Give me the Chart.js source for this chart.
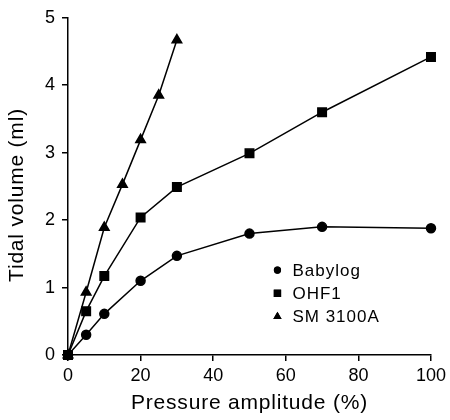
<!DOCTYPE html>
<html>
<head>
<meta charset="utf-8">
<script src="https://cdn.jsdelivr.net/npm/chart.js@4"></script>
<style>
  body { margin: 0; background: #fff; }
  #wrap { width: 450px; height: 420px; }
</style>
</head>
<body>
<div id="wrap"><canvas id="chart"></canvas></div>
<script>
// values
const babylogX = [0, 5, 10, 20, 30, 50, 70, 100];
const babylogY = [0, 0.30, 0.61, 1.10, 1.47, 1.80, 1.90, 1.88];
const ohf1X = [0, 5, 10, 20, 30, 50, 70, 100];
const ohf1Y = [0, 0.65, 1.17, 2.04, 2.49, 2.99, 3.60, 4.42];
const smX = [0, 5, 10, 15, 20, 25, 30];
const smY = [0, 0.93, 1.89, 2.53, 3.19, 3.85, 4.67];
const seriesNames = ["Babylog", "OHF1", "SM 3100A"];
const xTicks = [0, 20, 40, 60, 80, 100];
const yTicks = [0, 1, 2, 3, 4, 5];
const xTitle = "Pressure amplitude (%)";
const yTitle = "Tidal volume (ml)";

const FONT = "'Liberation Sans', Arial, sans-serif";

function pts(xs, ys) {
  return xs.map((x, i) => ({ x: x, y: ys[i] }));
}

function makeSet(label, data, style, radius) {
  return {
    label: label,
    data: data,
    borderColor: "#000",
    backgroundColor: "#000",
    borderWidth: 1.5,
    pointStyle: style,
    pointRadius: radius,
    pointHoverRadius: radius,
    showLine: true,
    tension: 0,
    clip: false
  };
}

// axis titles + small legend inside the plot (lower right)
const extras = {
  id: "extras",
  afterDraw(chart) {
    const ctx = chart.ctx;
    const area = chart.chartArea;
    const xs = chart.scales.x;
    const ys = chart.scales.y;
    ctx.save();
    ctx.fillStyle = "#000";
    ctx.letterSpacing = "0.8px";
    ctx.font = "21px " + FONT;
    ctx.textAlign = "center";
    ctx.textBaseline = "middle";
    ctx.fillText(xTitle, (area.left + area.right) / 2, 403);
    ctx.save();
    ctx.translate(17, 195);
    ctx.rotate(-Math.PI / 2);
    ctx.fillText(yTitle, 0, 0);
    ctx.restore();

    const left = xs.getPixelForValue(57.7);
    let top = ys.getPixelForValue(1.26);
    const sizes = { circle: 3.6, rect: 5.2, triangle: 4.8 };
    ctx.letterSpacing = "1px";
    ctx.font = "17px " + FONT;
    ctx.textAlign = "left";
    chart.data.datasets.forEach(ds => {
      Chart.helpers.drawPoint(ctx, {
        pointStyle: ds.pointStyle, radius: sizes[ds.pointStyle], rotation: 0, borderWidth: 0
      }, left, top);
      ctx.fill();
      ctx.fillText(ds.label, left + 15, top + 1);
      top += 23.3;
    });
    ctx.restore();
  }
};

new Chart(document.getElementById("chart"), {
  type: "scatter",
  data: {
    datasets: [
      makeSet(seriesNames[0], pts(babylogX, babylogY), "circle", 4.5),
      makeSet(seriesNames[1], pts(ohf1X, ohf1Y), "rect", 6),
      makeSet(seriesNames[2], pts(smX, smY), "triangle", 5.5)
    ]
  },
  options: {
    responsive: true,
    maintainAspectRatio: false,
    animation: false,
    layout: { padding: { top: 15, right: 18, left: 0, bottom: 0 } },
    plugins: {
      legend: { display: false },
      tooltip: { enabled: false }
    },
    scales: {
      x: {
        type: "linear",
        min: 0,
        max: 100,
        afterFit(scale) { scale.height = 65; },
        afterBuildTicks(scale) { scale.ticks = xTicks.map(v => ({ value: v })); },
        grid: { display: true, drawOnChartArea: false, drawTicks: true, tickLength: 6, color: "#000", lineWidth: 1.5 },
        border: { display: true, color: "#000", width: 1.5 },
        ticks: { color: "#000", font: { family: FONT, size: 18 }, padding: 4 }
      },
      y: {
        type: "linear",
        min: 0,
        max: 5,
        afterFit(scale) { scale.width = 68; },
        afterBuildTicks(scale) { scale.ticks = yTicks.map(v => ({ value: v })); },
        grid: { display: true, drawOnChartArea: false, drawTicks: true, tickLength: 6, color: "#000", lineWidth: 1.5 },
        border: { display: true, color: "#000", width: 1.5 },
        ticks: { color: "#000", font: { family: FONT, size: 18 }, padding: 7 }
      }
    }
  },
  plugins: [extras]
});
</script>
</body>
</html>
